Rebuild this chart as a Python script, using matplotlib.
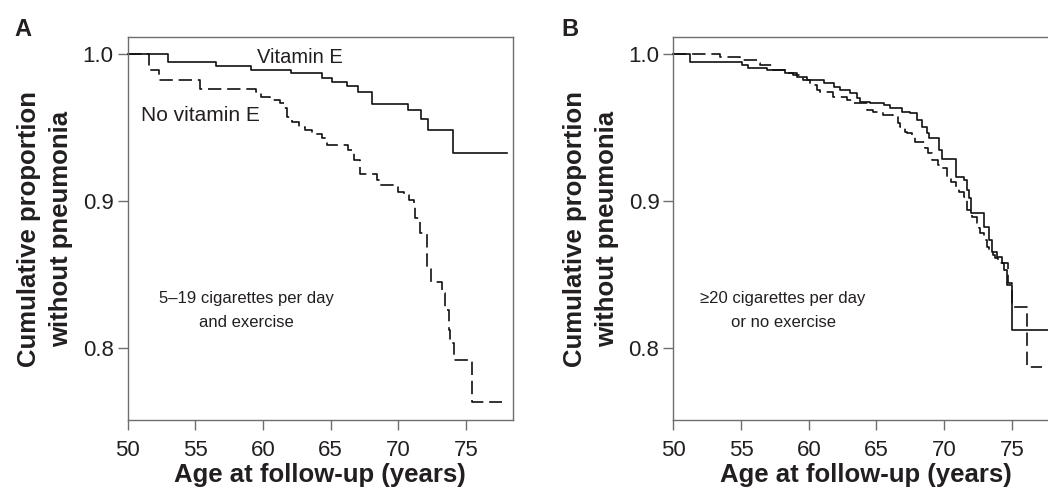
import matplotlib.pyplot as plt
import numpy as np

plt.rcParams['font.family'] = ['Liberation Sans', 'DejaVu Sans']

# panel A: 5-19 cigarettes per day and exercise
a_vite_age = [50, 53.0, 56.55, 59.1, 62.1, 64.35, 65.1, 66.2, 67.05, 68.05,
              70.7, 71.7, 72.2, 74.05, 78.0]
a_vite_surv = [1.0, 0.9944, 0.9918, 0.9891, 0.9869, 0.9841, 0.9812, 0.9782,
               0.9744, 0.966, 0.9619, 0.9556, 0.9483, 0.9329, 0.9329]

a_novite_age = [50, 51.55, 52.34, 55.37, 59.5, 59.85, 60.54, 61.28, 61.57,
                61.77, 62.14, 62.63, 63.12, 63.62, 64.36, 64.73, 66.25, 66.69,
                67.19, 68.42, 68.54, 70.01, 70.38, 70.75, 71.12, 71.25, 71.62,
                72.11, 72.43, 73.22, 73.46, 73.71, 73.83, 74.08, 75.43, 77.65]
a_novite_surv = [1.0, 0.9896, 0.9823, 0.976, 0.9744, 0.971, 0.9687, 0.9669,
                 0.9631, 0.9573, 0.9539, 0.9505, 0.9483, 0.9456, 0.9433,
                 0.9381, 0.9347, 0.9279, 0.9188, 0.9143, 0.9109, 0.9063,
                 0.9041, 0.9007, 0.8984, 0.8884, 0.8782, 0.8551, 0.8449,
                 0.8374, 0.8259, 0.8122, 0.8034, 0.7918, 0.7635, 0.7635]

# panel B: >=20 cigarettes per day or no exercise
b_vite_age = [50, 51.24, 55.06, 55.55, 56.91, 58.26, 59.13, 59.87, 61.09,
              61.83, 62.33, 63.07, 63.56, 63.81, 64.55, 65.53, 66.03, 66.89,
              67.5, 68.0, 68.37, 68.74, 68.86, 69.6, 69.85, 70.84, 71.45,
              71.7, 71.82, 71.95, 72.93, 73.3, 73.55, 73.92, 74.29, 74.41,
              74.66, 74.98, 78.0]
b_vite_surv = [1.0, 0.9948, 0.9925, 0.9903, 0.9891, 0.9873, 0.9846, 0.9828,
               0.9801, 0.9778, 0.9755, 0.9733, 0.9705, 0.9676, 0.9665,
               0.9653, 0.9631, 0.9607, 0.9597, 0.9551, 0.9505, 0.9461,
               0.9427, 0.9347, 0.929, 0.9165, 0.9143, 0.9075, 0.9018, 0.8916,
               0.8825, 0.8735, 0.8655, 0.8621, 0.8576, 0.8531, 0.8429,
               0.8122, 0.8122]

b_novite_age = [50, 53.45, 54.93, 56.26, 56.4, 57.37, 58.26, 58.85, 59.37,
                59.59, 60.11, 60.63, 60.85, 61.81, 62.83, 63.29, 64.33, 64.77,
                65.51, 66.25, 66.62, 66.76, 67.14, 67.28, 67.65, 67.88, 68.62,
                68.84, 69.13, 69.58, 69.87, 70.24, 70.47, 70.84, 71.06, 71.43,
                71.58, 71.72, 72.09, 72.46, 72.54, 72.68, 72.91, 73.2, 73.28,
                73.57, 73.79, 74.01, 74.73, 74.98, 76.09, 77.25]
b_novite_surv = [1.0, 0.9982, 0.9959, 0.9939, 0.9925, 0.9891, 0.9869, 0.9857,
                 0.9846, 0.9823, 0.9789, 0.9755, 0.9744, 0.971, 0.9687,
                 0.9667, 0.9619, 0.9605, 0.9585, 0.9571, 0.9531, 0.9503,
                 0.9469, 0.9463, 0.9449, 0.9401, 0.9361, 0.9327, 0.9279,
                 0.9245, 0.9224, 0.9163, 0.9129, 0.9095, 0.9061, 0.9027,
                 0.9007, 0.8939, 0.8891, 0.885, 0.8816, 0.8782, 0.8735,
                 0.8687, 0.8653, 0.8633, 0.8612, 0.8578, 0.8442, 0.8277,
                 0.7869, 0.7869]

x_ticks = [50, 55, 60, 65, 70, 75]
y_ticks = [0.8, 0.9, 1.0]

TXT = '#231f20'
SPINE = '#6e6e6e'

fig = plt.figure(figsize=(10.48, 4.94), dpi=100)
ax_a = fig.add_axes([0.1217, 0.1498, 0.3676, 0.7743])
ax_b = fig.add_axes([0.6425, 0.1498, 0.3676, 0.7743])


def style_axes(ax):
    ax.set_xlim(50, 78.45)
    ax.set_ylim(0.751, 1.0114)
    ax.set_xticks(x_ticks)
    ax.set_yticks(y_ticks)
    ax.set_yticklabels(['0.8', '0.9', '1.0'])
    for s in ax.spines.values():
        s.set_color(SPINE)
        s.set_linewidth(1.0)
    ax.tick_params(direction='out', length=7, width=1, color=SPINE,
                   labelsize=16, labelcolor=TXT, pad=3)
    ax.tick_params(axis='x', pad=7.5)
    ax.set_xlabel('Age at follow-up (years)', fontsize=18.5,
                  fontweight='bold', color=TXT, labelpad=1)
    ax.set_ylabel('Cumulative proportion\nwithout pneumonia', fontsize=18.5,
                  fontweight='bold', color=TXT, labelpad=7, linespacing=1.4)


for ax, vite_age, vite_surv, no_age, no_surv in [
        (ax_a, a_vite_age, a_vite_surv, a_novite_age, a_novite_surv),
        (ax_b, b_vite_age, b_vite_surv, b_novite_age, b_novite_surv)]:
    ax.step(vite_age, vite_surv, where='post', color='#111111', lw=1.2,
            clip_on=False)
    ax.step(no_age, no_surv, where='post', color='#111111', lw=1.2,
            dashes=(8, 3.5), clip_on=False)
    style_axes(ax)

ax_b.spines['right'].set_visible(False)

ax_a.text(62.7, 0.9939, 'Vitamin E', fontsize=14.5, color=TXT,
          ha='center', va='baseline')
ax_a.text(55.4, 0.9585, 'No vitamin E', fontsize=15, color=TXT,
          ha='center', va='center')
ax_a.text(58.8, 0.8255, '5\u201319 cigarettes per day\nand exercise', fontsize=12,
          color=TXT, ha='center', va='center', multialignment='center',
          linespacing=1.75)
ax_b.text(58.1, 0.8255, '\u226520 cigarettes per day\nor no exercise', fontsize=12,
          color=TXT, ha='center', va='center', multialignment='center',
          linespacing=1.75)

fig.text(22.5 / 1048, 1 - 30 / 494, 'A', fontsize=17, fontweight='bold',
         color=TXT, ha='center', va='center')
fig.text(570 / 1048, 1 - 30 / 494, 'B', fontsize=17, fontweight='bold',
         color=TXT, ha='center', va='center')

fig.savefig('out.png', dpi=100)
